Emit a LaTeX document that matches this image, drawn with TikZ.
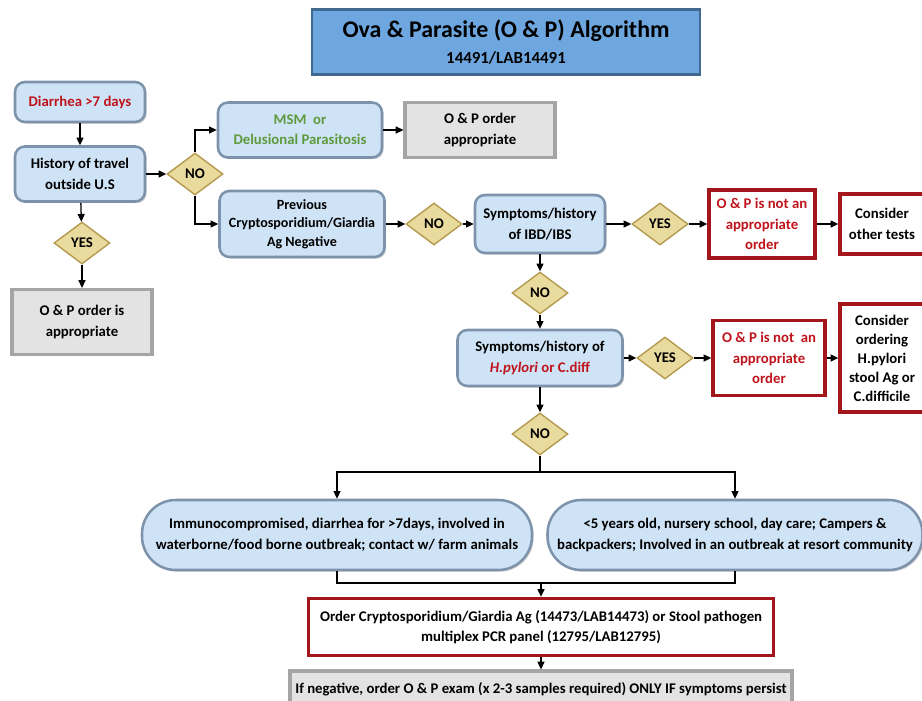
\documentclass[tikz,border=0pt]{standalone}
\usepackage{fontspec}
\setmainfont{Carlito}
\usetikzlibrary{positioning, calc}
\usetikzlibrary{arrows.meta}
\usetikzlibrary{shapes,shadows}

\definecolor{boxblue}{HTML}{CFE3F6}
\definecolor{rimblue}{HTML}{7D93AB}
\definecolor{titleblue}{HTML}{6EA7E0}
\definecolor{titlerim}{HTML}{41698F}
\definecolor{gold}{HTML}{E9DA9E}
\definecolor{goldrim}{HTML}{B49B4F}
\definecolor{boxgray}{HTML}{E3E3E3}
\definecolor{grayrim}{HTML}{A5A5A5}
\definecolor{darkred}{HTML}{A3161C}
\definecolor{txtred}{HTML}{C0141C}
\definecolor{txtgreen}{HTML}{5E9A3C}

\begin{document}
\begin{tikzpicture}[x=0.025cm,y=-0.025cm,->,>={Triangle[length=5.5pt,width=5pt]},line width=0.9pt,draw=black!100]
	\def\pxl{0.025cm}
	\def\nfont{\fontsize{10.5}{14.5}\selectfont\bfseries}
	\tikzstyle{b-node}=[rounded corners=7pt,fill=boxblue,draw=rimblue,line width=1.8pt,align=center,font=\nfont,inner sep=2pt,drop shadow={shadow xshift=1.2pt,shadow yshift=-1.2pt,opacity=0.35}]
	\tikzstyle{pill}=[b-node,rounded corners=24pt]
	\tikzstyle{d-node}=[diamond,fill=gold,draw=goldrim,line width=1pt,inner sep=0pt,minimum width=56*\pxl,minimum height=42*\pxl,font=\nfont]
	\tikzstyle{g-node}=[rectangle,fill=boxgray,draw=grayrim,line width=2.2pt,align=center,font=\nfont,inner sep=2pt]
	\tikzstyle{r-node}=[rectangle,fill=white,draw=darkred,line width=2.4pt,align=center,font=\nfont,inner sep=2pt]
	\useasboundingbox (0,0) rectangle (922,700);

	% title
	\node[rectangle,fill=titleblue,draw=titlerim,line width=2pt,align=center,font=\bfseries,minimum width=388*\pxl,minimum height=65*\pxl] (title) at (506,42)
		{\fontsize{17}{20}\selectfont Ova \& Parasite (O \& P) Algorithm\\[6pt]\fontsize{12}{14}\selectfont 14491/LAB14491};

	% left column
	\node[b-node,minimum width=130*\pxl,minimum height=40*\pxl,text=txtred] 	(d0)	at (80,102)	{Diarrhea >7 days};
	\node[b-node,minimum width=130*\pxl,minimum height=55*\pxl] 	(h0)	at (80,174)	{History of travel\\outside U.S};
	\node[d-node] 	(y0)	at (82,243)	{YES};
	\node[g-node,minimum width=140*\pxl,minimum height=65*\pxl] 	(g0)	at (82,322)	{O \& P order is\\appropriate};

	% upper branch
	\node[d-node] 	(n0)	at (195,174)	{NO};
	\node[b-node,minimum width=164*\pxl,minimum height=55*\pxl,text=txtgreen] 	(m0)	at (300,130)	{MSM~~or\\Delusional Parasitosis};
	\node[g-node,minimum width=150*\pxl,minimum height=55*\pxl] 	(g1)	at (480,130)	{O \& P order\\appropriate};

	% middle row
	\node[b-node,minimum width=165*\pxl,minimum height=66*\pxl,font=\fontsize{10}{13}\selectfont\bfseries] 	(p0)	at (302,224)	{Previous\\Cryptosporidium/Giardia\\Ag Negative};
	\node[d-node] 	(n1)	at (434,224)	{NO};
	\node[b-node,minimum width=130*\pxl,minimum height=58*\pxl] 	(s0)	at (540,224)	{Symptoms/history\\of IBD/IBS};
	\node[d-node] 	(y1)	at (660,224)	{YES};
	\node[r-node,minimum width=106*\pxl,minimum height=68*\pxl,text=txtred] 	(r0)	at (762,224)	{O \& P is not an\\appropriate\\order};
	\node[r-node,minimum width=84*\pxl,minimum height=60*\pxl] 	(c0)	at (882,224)	{Consider\\other tests};

	% H.pylori row
	\node[d-node] 	(n2)	at (540,293)	{NO};
	\node[b-node,minimum width=165*\pxl,minimum height=56*\pxl] 	(s1)	at (540,358)	{Symptoms/history of\\\textcolor{txtred}{\textit{H.pylori} or C.diff}};
	\node[d-node] 	(y2)	at (665,358)	{YES};
	\node[r-node,minimum width=112*\pxl,minimum height=75*\pxl,text=txtred] 	(r1)	at (769,358)	{O \& P is not~ an\\appropriate\\order};
	\node[r-node,minimum width=84*\pxl,minimum height=108*\pxl,font=\fontsize{10.5}{13.5}\selectfont\bfseries] 	(c1)	at (882,358)	{Consider\\ordering\\H.pylori\\stool Ag or\\C.difficile};
	\node[d-node] 	(n3)	at (540,434)	{NO};

	% risk groups
	\node[pill,minimum width=390*\pxl,minimum height=70*\pxl] 	(i0)	at (337,535)	{Immunocompromised, diarrhea for >7days, involved in\\waterborne/food borne outbreak; contact w/ farm animals};
	\node[pill,minimum width=375*\pxl,minimum height=70*\pxl] 	(k0)	at (735,535)	{<5 years old, nursery school, day care; Campers \&\\backpackers; Involved in an outbreak at resort community};
	\coordinate 	(split)	at (540,472);
	\coordinate 	(join)	at (541,583);

	% orders
	\node[r-node,minimum width=465*\pxl,minimum height=57*\pxl] 	(o0)	at (541,627)	{Order Cryptosporidium/Giardia Ag (14473/LAB14473) or Stool pathogen\\multiplex PCR panel (12795/LAB12795)};
	\node[g-node,minimum width=502*\pxl,minimum height=36*\pxl] 	(f0)	at (541,689)	{If negative, order O \& P exam (x 2-3 samples required) ONLY IF symptoms persist};

	% connectors
	\draw (d0) -- (h0);
	\draw (h0) -- (y0);
	\draw (y0) -- (g0);
	\draw (h0) -- (n0);
	\draw (n0.north) |- (m0.west);
	\draw (n0.south) |- (p0.west);
	\draw (m0) -- (g1);
	\draw (p0) -- (n1);
	\draw (n1) -- (s0);
	\draw (s0) -- (y1);
	\draw (y1) -- (r0);
	\draw (r0) -- (c0);
	\draw (s0) -- (n2);
	\draw (n2) -- (s1);
	\draw (s1) -- (y2);
	\draw (y2) -- (r1);
	\draw (r1) -- (c1);
	\draw (s1) -- (n3);
	\draw[-] (n3) -- (split);
	\draw (split) -| (i0.north);
	\draw (split) -| (k0.north);
	\draw[-] (i0.south) |- (join);
	\draw[-] (k0.south) |- (join);
	\draw (join) -- (o0);
	\draw (o0) -- (f0);
\end{tikzpicture}
\end{document}
